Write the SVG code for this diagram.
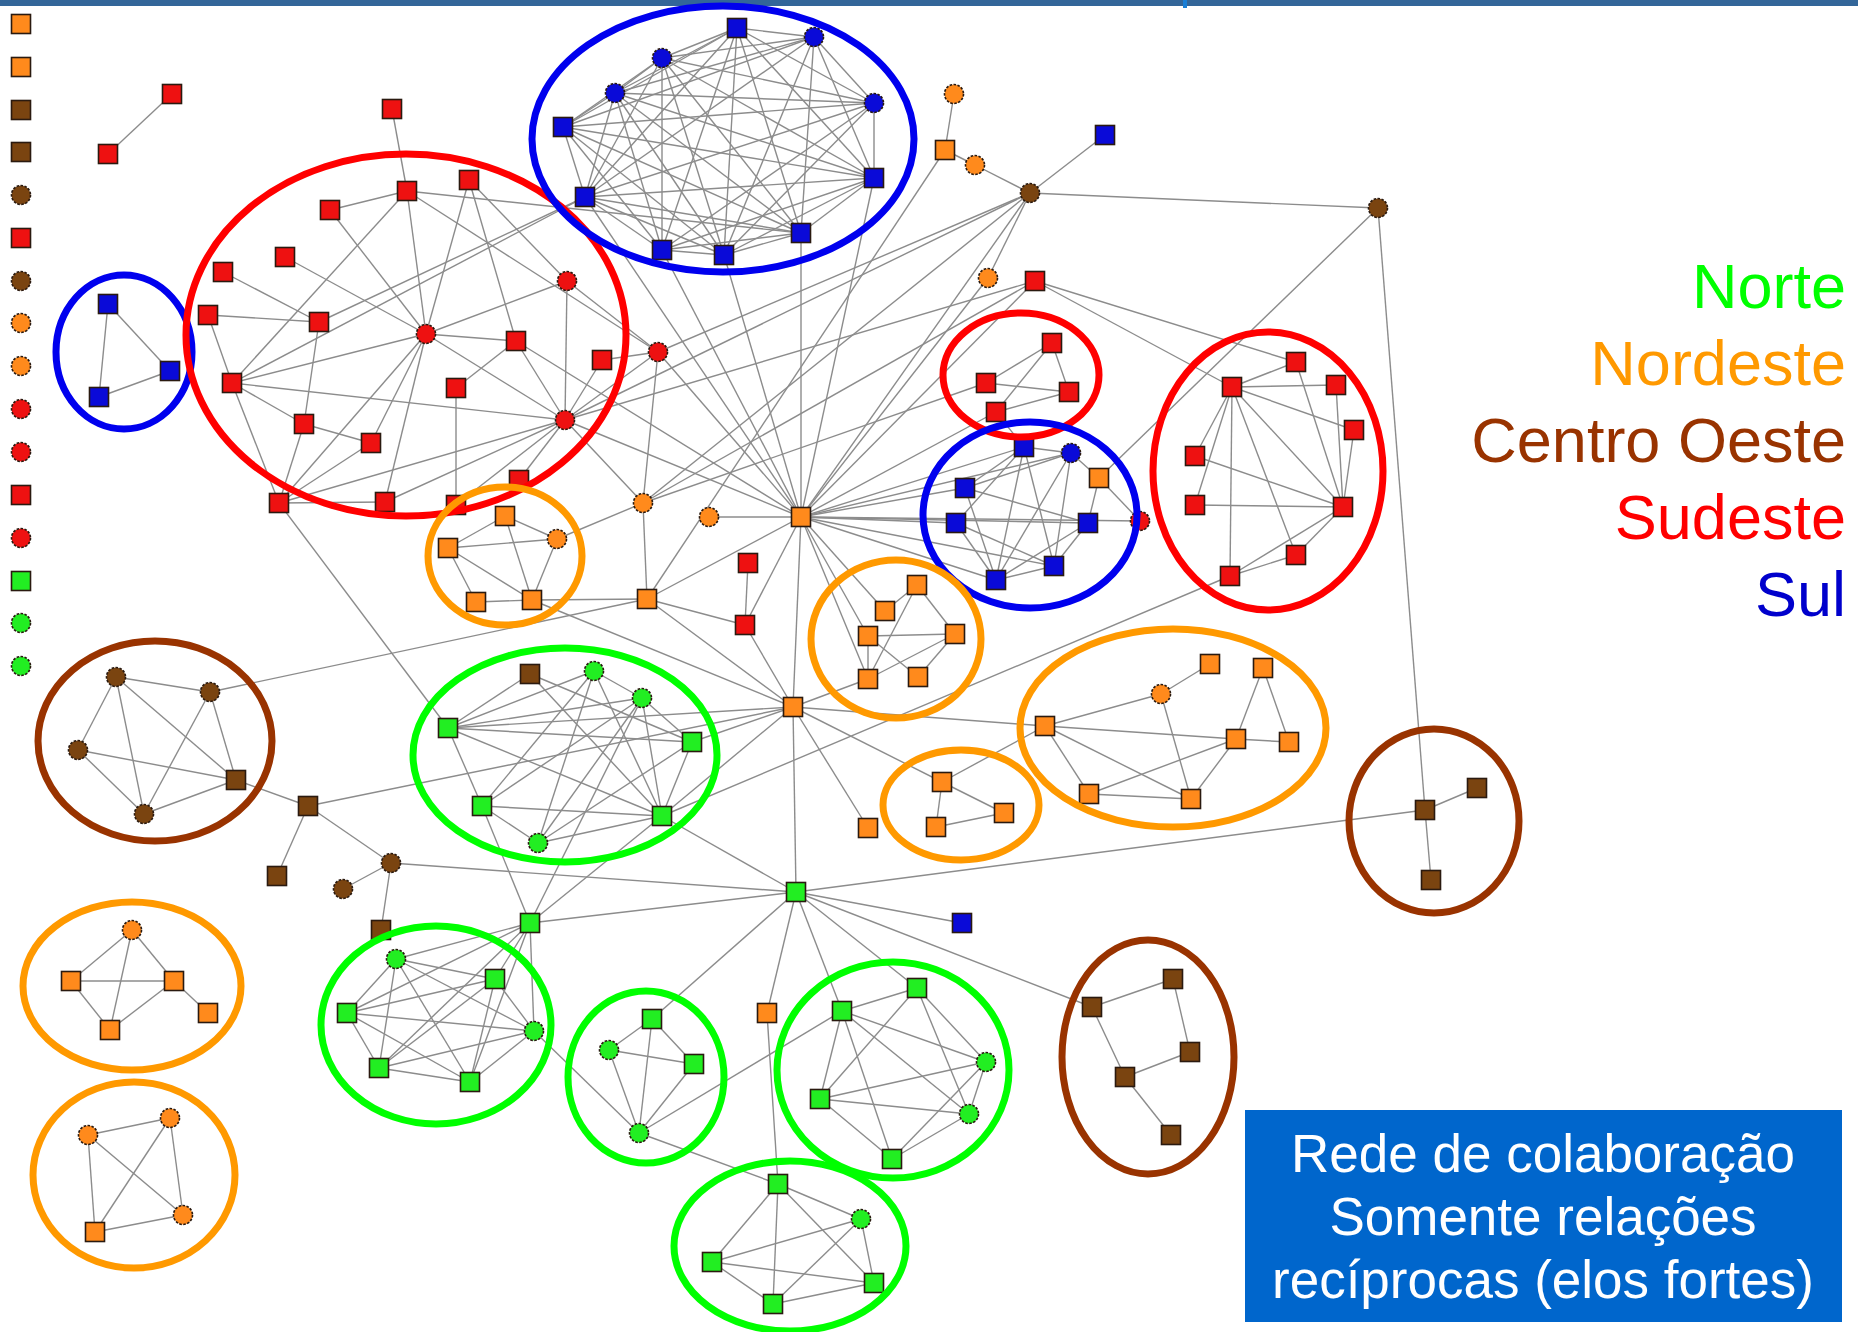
<svg xmlns="http://www.w3.org/2000/svg" xmlns:xlink="http://www.w3.org/1999/xlink" width="1858" height="1332" viewBox="0 0 1858 1332">
<style>
.e line{stroke:#8c8c8c;stroke-width:1.4}
.sq{stroke:#2a1a10;stroke-width:1.6}
.ci{stroke:#2a1a10;stroke-width:1.6;stroke-dasharray:2.6 1.4}
.o{fill:#ff8a1c}.r{fill:#ee1111}.b{fill:#0a0ad8}.w{fill:#7a4410}.g{fill:#22ee22}
.cl ellipse{fill:none;stroke-width:7}
.lg{font-family:"Liberation Sans",Arial,sans-serif;font-size:63px;text-anchor:end}
.bx{font-family:"Liberation Sans",Arial,sans-serif;font-size:53px;text-anchor:middle;fill:#ffffff}
</style>
<defs>
<rect id="so" class="sq o" x="-9.5" y="-9.5" width="19" height="19"/>
<rect id="sr" class="sq r" x="-9.5" y="-9.5" width="19" height="19"/>
<rect id="sb" class="sq b" x="-9.5" y="-9.5" width="19" height="19"/>
<rect id="sw" class="sq w" x="-9.5" y="-9.5" width="19" height="19"/>
<rect id="sg" class="sq g" x="-9.5" y="-9.5" width="19" height="19"/>
<circle id="co" class="ci o" r="9.5"/>
<circle id="cr" class="ci r" r="9.5"/>
<circle id="cb" class="ci b" r="9.5"/>
<circle id="cw" class="ci w" r="9.5"/>
<circle id="cg" class="ci g" r="9.5"/>
</defs>
<rect x="0" y="0" width="1858" height="1332" fill="#ffffff"/>
<rect x="0" y="0" width="1858" height="6" fill="#336699"/>
<rect x="1183" y="0" width="4" height="8" fill="#1a7fd6"/>
<g id="connectors" class="e">
<line x1="172" y1="94" x2="108" y2="154"/>
<line x1="108" y1="304" x2="170" y2="371"/><line x1="108" y1="304" x2="99" y2="397"/><line x1="170" y1="371" x2="99" y2="397"/>
<line x1="392" y1="109" x2="407" y2="191"/>
<line x1="407" y1="191" x2="330" y2="210"/><line x1="407" y1="191" x2="426" y2="334"/><line x1="407" y1="191" x2="232" y2="383"/><line x1="407" y1="191" x2="658" y2="352"/><line x1="407" y1="191" x2="801" y2="233"/>
<line x1="469" y1="180" x2="426" y2="334"/><line x1="469" y1="180" x2="516" y2="341"/><line x1="469" y1="180" x2="567" y2="281"/>
<line x1="330" y1="210" x2="426" y2="334"/><line x1="285" y1="257" x2="426" y2="334"/><line x1="223" y1="272" x2="319" y2="322"/><line x1="208" y1="315" x2="319" y2="322"/><line x1="208" y1="315" x2="232" y2="383"/>
<line x1="319" y1="322" x2="304" y2="424"/><line x1="319" y1="322" x2="585" y2="197"/><line x1="232" y1="383" x2="585" y2="197"/>
<line x1="426" y1="334" x2="516" y2="341"/><line x1="426" y1="334" x2="567" y2="281"/><line x1="426" y1="334" x2="232" y2="383"/><line x1="426" y1="334" x2="565" y2="420"/><line x1="426" y1="334" x2="279" y2="503"/><line x1="426" y1="334" x2="371" y2="443"/><line x1="426" y1="334" x2="385" y2="502"/>
<line x1="516" y1="341" x2="456" y2="388"/><line x1="516" y1="341" x2="565" y2="420"/><line x1="567" y1="281" x2="565" y2="420"/><line x1="567" y1="281" x2="658" y2="352"/>
<line x1="232" y1="383" x2="304" y2="424"/><line x1="232" y1="383" x2="565" y2="420"/><line x1="232" y1="383" x2="279" y2="503"/>
<line x1="456" y1="388" x2="456" y2="505"/><line x1="304" y1="424" x2="371" y2="443"/><line x1="304" y1="424" x2="279" y2="503"/>
<line x1="279" y1="503" x2="385" y2="502"/><line x1="279" y1="503" x2="371" y2="443"/><line x1="279" y1="503" x2="565" y2="420"/>
<line x1="385" y1="502" x2="565" y2="420"/><line x1="456" y1="505" x2="565" y2="420"/><line x1="565" y1="420" x2="519" y2="480"/>
<line x1="602" y1="360" x2="658" y2="352"/><line x1="565" y1="420" x2="658" y2="352"/><line x1="565" y1="420" x2="602" y2="360"/>
<line x1="565" y1="420" x2="643" y2="503"/><line x1="565" y1="420" x2="1035" y2="281"/>
<line x1="279" y1="503" x2="448" y2="728"/>
<line x1="737" y1="28" x2="814" y2="37"/><line x1="737" y1="28" x2="662" y2="58"/><line x1="737" y1="28" x2="615" y2="93"/><line x1="737" y1="28" x2="874" y2="103"/><line x1="737" y1="28" x2="563" y2="127"/><line x1="737" y1="28" x2="874" y2="178"/><line x1="737" y1="28" x2="585" y2="197"/><line x1="737" y1="28" x2="801" y2="233"/><line x1="737" y1="28" x2="662" y2="250"/><line x1="737" y1="28" x2="724" y2="255"/>
<line x1="814" y1="37" x2="662" y2="58"/><line x1="814" y1="37" x2="615" y2="93"/><line x1="814" y1="37" x2="874" y2="103"/><line x1="814" y1="37" x2="563" y2="127"/><line x1="814" y1="37" x2="874" y2="178"/><line x1="814" y1="37" x2="585" y2="197"/><line x1="814" y1="37" x2="801" y2="233"/><line x1="814" y1="37" x2="724" y2="255"/>
<line x1="662" y1="58" x2="615" y2="93"/><line x1="662" y1="58" x2="874" y2="103"/><line x1="662" y1="58" x2="563" y2="127"/><line x1="662" y1="58" x2="874" y2="178"/><line x1="662" y1="58" x2="585" y2="197"/><line x1="662" y1="58" x2="801" y2="233"/><line x1="662" y1="58" x2="662" y2="250"/><line x1="662" y1="58" x2="724" y2="255"/>
<line x1="615" y1="93" x2="874" y2="103"/><line x1="615" y1="93" x2="563" y2="127"/><line x1="615" y1="93" x2="874" y2="178"/><line x1="615" y1="93" x2="585" y2="197"/><line x1="615" y1="93" x2="801" y2="233"/><line x1="615" y1="93" x2="662" y2="250"/><line x1="615" y1="93" x2="724" y2="255"/>
<line x1="874" y1="103" x2="563" y2="127"/><line x1="874" y1="103" x2="874" y2="178"/><line x1="874" y1="103" x2="585" y2="197"/><line x1="874" y1="103" x2="662" y2="250"/><line x1="874" y1="103" x2="724" y2="255"/>
<line x1="563" y1="127" x2="874" y2="178"/><line x1="563" y1="127" x2="585" y2="197"/><line x1="563" y1="127" x2="801" y2="233"/><line x1="563" y1="127" x2="662" y2="250"/><line x1="563" y1="127" x2="724" y2="255"/>
<line x1="874" y1="178" x2="585" y2="197"/><line x1="874" y1="178" x2="801" y2="233"/><line x1="874" y1="178" x2="662" y2="250"/><line x1="874" y1="178" x2="724" y2="255"/>
<line x1="585" y1="197" x2="801" y2="233"/><line x1="585" y1="197" x2="662" y2="250"/><line x1="585" y1="197" x2="724" y2="255"/>
<line x1="801" y1="233" x2="662" y2="250"/><line x1="801" y1="233" x2="724" y2="255"/><line x1="662" y1="250" x2="724" y2="255"/>
<line x1="585" y1="197" x2="801" y2="517"/><line x1="662" y1="250" x2="801" y2="517"/><line x1="724" y1="255" x2="801" y2="517"/><line x1="801" y1="233" x2="801" y2="517"/><line x1="874" y1="178" x2="801" y2="517"/>
<line x1="954" y1="94" x2="945" y2="150"/><line x1="945" y1="150" x2="975" y2="165"/><line x1="975" y1="165" x2="1030" y2="193"/><line x1="1030" y1="193" x2="1105" y2="135"/><line x1="1030" y1="193" x2="1378" y2="208"/><line x1="1030" y1="193" x2="988" y2="278"/>
<line x1="1030" y1="193" x2="658" y2="352"/><line x1="1030" y1="193" x2="643" y2="503"/><line x1="1030" y1="193" x2="565" y2="420"/><line x1="1030" y1="193" x2="801" y2="517"/>
<line x1="945" y1="150" x2="647" y2="599"/><line x1="988" y1="278" x2="801" y2="517"/>
<line x1="1035" y1="281" x2="801" y2="517"/><line x1="1035" y1="281" x2="1296" y2="362"/><line x1="1035" y1="281" x2="1232" y2="387"/><line x1="643" y1="503" x2="1035" y2="281"/>
<line x1="1052" y1="343" x2="986" y2="383"/><line x1="1052" y1="343" x2="1069" y2="392"/><line x1="1052" y1="343" x2="996" y2="412"/><line x1="986" y1="383" x2="1069" y2="392"/><line x1="996" y1="412" x2="1069" y2="392"/>
<line x1="986" y1="383" x2="643" y2="503"/><line x1="996" y1="412" x2="1024" y2="447"/><line x1="996" y1="412" x2="801" y2="517"/>
<line x1="1296" y1="362" x2="1232" y2="387"/><line x1="1232" y1="387" x2="1336" y2="385"/><line x1="1232" y1="387" x2="1195" y2="456"/><line x1="1232" y1="387" x2="1195" y2="505"/><line x1="1232" y1="387" x2="1230" y2="576"/><line x1="1232" y1="387" x2="1296" y2="555"/><line x1="1232" y1="387" x2="1354" y2="430"/><line x1="1232" y1="387" x2="1343" y2="507"/>
<line x1="1296" y1="362" x2="1343" y2="507"/><line x1="1336" y1="385" x2="1343" y2="507"/><line x1="1354" y1="430" x2="1343" y2="507"/><line x1="1195" y1="456" x2="1343" y2="507"/><line x1="1195" y1="505" x2="1343" y2="507"/><line x1="1343" y1="507" x2="1296" y2="555"/><line x1="1343" y1="507" x2="1230" y2="576"/><line x1="1296" y1="555" x2="1230" y2="576"/>
<line x1="1230" y1="576" x2="662" y2="816"/><line x1="1378" y1="208" x2="1425" y2="810"/><line x1="1378" y1="208" x2="1099" y2="478"/>
<line x1="1024" y1="447" x2="965" y2="488"/><line x1="1024" y1="447" x2="956" y2="523"/><line x1="1024" y1="447" x2="996" y2="580"/><line x1="1024" y1="447" x2="1054" y2="566"/><line x1="1024" y1="447" x2="1071" y2="453"/>
<line x1="1071" y1="453" x2="965" y2="488"/><line x1="1071" y1="453" x2="996" y2="580"/><line x1="1071" y1="453" x2="1054" y2="566"/><line x1="1071" y1="453" x2="1099" y2="478"/><line x1="1099" y1="478" x2="1088" y2="523"/>
<line x1="965" y1="488" x2="1088" y2="523"/><line x1="965" y1="488" x2="996" y2="580"/><line x1="956" y1="523" x2="996" y2="580"/><line x1="956" y1="523" x2="1054" y2="566"/><line x1="1088" y1="523" x2="996" y2="580"/><line x1="1088" y1="523" x2="1054" y2="566"/><line x1="1054" y1="566" x2="996" y2="580"/><line x1="1099" y1="478" x2="1140" y2="521"/>
<line x1="801" y1="517" x2="1024" y2="447"/><line x1="801" y1="517" x2="965" y2="488"/><line x1="801" y1="517" x2="956" y2="523"/><line x1="801" y1="517" x2="1088" y2="523"/><line x1="801" y1="517" x2="1054" y2="566"/><line x1="801" y1="517" x2="996" y2="580"/><line x1="801" y1="517" x2="1140" y2="521"/><line x1="801" y1="517" x2="1071" y2="453"/>
<line x1="505" y1="516" x2="448" y2="548"/><line x1="505" y1="516" x2="557" y2="539"/><line x1="505" y1="516" x2="532" y2="600"/><line x1="448" y1="548" x2="557" y2="539"/><line x1="448" y1="548" x2="476" y2="602"/><line x1="448" y1="548" x2="532" y2="600"/><line x1="476" y1="602" x2="532" y2="600"/><line x1="557" y1="539" x2="532" y2="600"/>
<line x1="557" y1="539" x2="643" y2="503"/><line x1="532" y1="600" x2="647" y2="599"/><line x1="532" y1="600" x2="793" y2="707"/>
<line x1="643" y1="503" x2="658" y2="352"/><line x1="643" y1="503" x2="647" y2="599"/><line x1="709" y1="517" x2="801" y2="517"/>
<line x1="801" y1="517" x2="647" y2="599"/><line x1="801" y1="517" x2="793" y2="707"/><line x1="801" y1="517" x2="885" y2="611"/><line x1="801" y1="517" x2="868" y2="636"/><line x1="801" y1="517" x2="868" y2="679"/><line x1="801" y1="517" x2="745" y2="625"/>
<line x1="801" y1="517" x2="565" y2="420"/><line x1="801" y1="517" x2="516" y2="341"/><line x1="801" y1="517" x2="658" y2="352"/>
<line x1="748" y1="563" x2="745" y2="625"/><line x1="745" y1="625" x2="793" y2="707"/><line x1="647" y1="599" x2="793" y2="707"/><line x1="647" y1="599" x2="745" y2="625"/><line x1="647" y1="599" x2="210" y2="692"/>
<line x1="793" y1="707" x2="692" y2="742"/><line x1="793" y1="707" x2="448" y2="728"/><line x1="793" y1="707" x2="662" y2="816"/><line x1="793" y1="707" x2="796" y2="892"/><line x1="793" y1="707" x2="868" y2="828"/><line x1="793" y1="707" x2="1045" y2="726"/><line x1="793" y1="707" x2="942" y2="782"/><line x1="793" y1="707" x2="868" y2="679"/><line x1="793" y1="707" x2="308" y2="806"/>
<line x1="917" y1="585" x2="885" y2="611"/><line x1="917" y1="585" x2="955" y2="634"/><line x1="917" y1="585" x2="868" y2="679"/><line x1="868" y1="636" x2="955" y2="634"/><line x1="868" y1="636" x2="868" y2="679"/><line x1="868" y1="636" x2="918" y2="677"/><line x1="868" y1="679" x2="955" y2="634"/><line x1="918" y1="677" x2="955" y2="634"/>
<line x1="116" y1="677" x2="210" y2="692"/><line x1="116" y1="677" x2="78" y2="750"/><line x1="116" y1="677" x2="144" y2="814"/><line x1="116" y1="677" x2="236" y2="780"/><line x1="210" y1="692" x2="236" y2="780"/><line x1="210" y1="692" x2="144" y2="814"/><line x1="78" y1="750" x2="236" y2="780"/><line x1="78" y1="750" x2="144" y2="814"/><line x1="144" y1="814" x2="236" y2="780"/><line x1="236" y1="780" x2="308" y2="806"/>
<line x1="308" y1="806" x2="277" y2="876"/><line x1="308" y1="806" x2="391" y2="863"/><line x1="391" y1="863" x2="343" y2="889"/><line x1="391" y1="863" x2="381" y2="930"/><line x1="391" y1="863" x2="796" y2="892"/>
<line x1="448" y1="728" x2="530" y2="674"/><line x1="448" y1="728" x2="594" y2="671"/><line x1="448" y1="728" x2="642" y2="698"/><line x1="448" y1="728" x2="692" y2="742"/><line x1="448" y1="728" x2="662" y2="816"/><line x1="448" y1="728" x2="482" y2="806"/>
<line x1="530" y1="674" x2="662" y2="816"/><line x1="530" y1="674" x2="692" y2="742"/><line x1="594" y1="671" x2="642" y2="698"/><line x1="594" y1="671" x2="482" y2="806"/><line x1="594" y1="671" x2="662" y2="816"/><line x1="594" y1="671" x2="538" y2="843"/>
<line x1="642" y1="698" x2="692" y2="742"/><line x1="642" y1="698" x2="662" y2="816"/><line x1="642" y1="698" x2="482" y2="806"/><line x1="642" y1="698" x2="538" y2="843"/><line x1="692" y1="742" x2="662" y2="816"/><line x1="482" y1="806" x2="662" y2="816"/><line x1="482" y1="806" x2="538" y2="843"/><line x1="662" y1="816" x2="538" y2="843"/><line x1="692" y1="742" x2="538" y2="843"/>
<line x1="482" y1="806" x2="530" y2="923"/><line x1="642" y1="698" x2="530" y2="923"/><line x1="662" y1="816" x2="530" y2="923"/><line x1="662" y1="816" x2="796" y2="892"/>
<line x1="796" y1="892" x2="530" y2="923"/><line x1="796" y1="892" x2="962" y2="923"/><line x1="796" y1="892" x2="1092" y2="1007"/><line x1="796" y1="892" x2="652" y2="1019"/><line x1="796" y1="892" x2="767" y2="1013"/><line x1="796" y1="892" x2="842" y2="1011"/><line x1="796" y1="892" x2="917" y2="988"/><line x1="796" y1="892" x2="1425" y2="810"/>
<line x1="530" y1="923" x2="396" y2="959"/><line x1="530" y1="923" x2="495" y2="979"/><line x1="530" y1="923" x2="347" y2="1013"/><line x1="530" y1="923" x2="534" y2="1031"/><line x1="530" y1="923" x2="379" y2="1068"/><line x1="530" y1="923" x2="470" y2="1082"/>
<line x1="396" y1="959" x2="495" y2="979"/><line x1="396" y1="959" x2="347" y2="1013"/><line x1="396" y1="959" x2="534" y2="1031"/><line x1="396" y1="959" x2="379" y2="1068"/><line x1="396" y1="959" x2="470" y2="1082"/>
<line x1="495" y1="979" x2="347" y2="1013"/><line x1="495" y1="979" x2="534" y2="1031"/><line x1="495" y1="979" x2="379" y2="1068"/><line x1="495" y1="979" x2="470" y2="1082"/>
<line x1="347" y1="1013" x2="534" y2="1031"/><line x1="347" y1="1013" x2="379" y2="1068"/><line x1="347" y1="1013" x2="470" y2="1082"/><line x1="534" y1="1031" x2="379" y2="1068"/><line x1="534" y1="1031" x2="470" y2="1082"/><line x1="379" y1="1068" x2="470" y2="1082"/>
<line x1="534" y1="1031" x2="639" y2="1133"/>
<line x1="652" y1="1019" x2="609" y2="1050"/><line x1="652" y1="1019" x2="694" y2="1064"/><line x1="652" y1="1019" x2="639" y2="1133"/><line x1="609" y1="1050" x2="694" y2="1064"/><line x1="609" y1="1050" x2="639" y2="1133"/><line x1="694" y1="1064" x2="639" y2="1133"/>
<line x1="639" y1="1133" x2="778" y2="1184"/><line x1="639" y1="1133" x2="842" y2="1011"/><line x1="767" y1="1013" x2="778" y2="1184"/>
<line x1="917" y1="988" x2="842" y2="1011"/><line x1="917" y1="988" x2="820" y2="1099"/><line x1="917" y1="988" x2="969" y2="1114"/><line x1="917" y1="988" x2="986" y2="1062"/>
<line x1="842" y1="1011" x2="820" y2="1099"/><line x1="842" y1="1011" x2="892" y2="1159"/><line x1="842" y1="1011" x2="986" y2="1062"/><line x1="842" y1="1011" x2="969" y2="1114"/>
<line x1="820" y1="1099" x2="986" y2="1062"/><line x1="820" y1="1099" x2="969" y2="1114"/><line x1="820" y1="1099" x2="892" y2="1159"/><line x1="986" y1="1062" x2="969" y2="1114"/><line x1="969" y1="1114" x2="892" y2="1159"/><line x1="892" y1="1159" x2="986" y2="1062"/>
<line x1="778" y1="1184" x2="861" y2="1219"/><line x1="778" y1="1184" x2="712" y2="1262"/><line x1="778" y1="1184" x2="773" y2="1304"/><line x1="778" y1="1184" x2="874" y2="1283"/><line x1="861" y1="1219" x2="712" y2="1262"/><line x1="861" y1="1219" x2="874" y2="1283"/><line x1="861" y1="1219" x2="773" y2="1304"/><line x1="712" y1="1262" x2="874" y2="1283"/><line x1="712" y1="1262" x2="773" y2="1304"/><line x1="874" y1="1283" x2="773" y2="1304"/>
<line x1="132" y1="930" x2="71" y2="981"/><line x1="132" y1="930" x2="174" y2="981"/><line x1="132" y1="930" x2="110" y2="1030"/><line x1="71" y1="981" x2="174" y2="981"/><line x1="71" y1="981" x2="110" y2="1030"/><line x1="174" y1="981" x2="110" y2="1030"/><line x1="174" y1="981" x2="208" y2="1013"/>
<line x1="88" y1="1135" x2="170" y2="1118"/><line x1="88" y1="1135" x2="95" y2="1232"/><line x1="88" y1="1135" x2="183" y2="1215"/><line x1="170" y1="1118" x2="95" y2="1232"/><line x1="170" y1="1118" x2="183" y2="1215"/><line x1="95" y1="1232" x2="183" y2="1215"/>
<line x1="1173" y1="979" x2="1092" y2="1007"/><line x1="1173" y1="979" x2="1190" y2="1052"/><line x1="1092" y1="1007" x2="1125" y2="1077"/><line x1="1190" y1="1052" x2="1125" y2="1077"/><line x1="1125" y1="1077" x2="1171" y2="1135"/>
<line x1="1477" y1="788" x2="1425" y2="810"/><line x1="1425" y1="810" x2="1431" y2="880"/>
<line x1="1161" y1="694" x2="1210" y2="664"/><line x1="1161" y1="694" x2="1045" y2="726"/><line x1="1161" y1="694" x2="1191" y2="799"/><line x1="1045" y1="726" x2="1236" y2="739"/><line x1="1045" y1="726" x2="1089" y2="794"/><line x1="1045" y1="726" x2="1191" y2="799"/>
<line x1="1263" y1="668" x2="1236" y2="739"/><line x1="1263" y1="668" x2="1289" y2="742"/><line x1="1236" y1="739" x2="1289" y2="742"/><line x1="1236" y1="739" x2="1089" y2="794"/><line x1="1236" y1="739" x2="1191" y2="799"/><line x1="1089" y1="794" x2="1191" y2="799"/><line x1="1045" y1="726" x2="942" y2="782"/>
<line x1="942" y1="782" x2="1004" y2="813"/><line x1="942" y1="782" x2="936" y2="827"/><line x1="936" y1="827" x2="1004" y2="813"/>
</g>
<g id="nodes">
<g id="legend-0"><use href="#so" x="21" y="24"/></g>
<g id="legend-1"><use href="#so" x="21" y="67"/></g>
<g id="legend-2"><use href="#sw" x="21" y="110"/></g>
<g id="legend-3"><use href="#sw" x="21" y="152"/></g>
<g id="legend-4"><use href="#cw" x="21" y="195"/></g>
<g id="legend-5"><use href="#sr" x="21" y="238"/></g>
<g id="legend-6"><use href="#cw" x="21" y="281"/></g>
<g id="legend-7"><use href="#co" x="21" y="323"/></g>
<g id="legend-8"><use href="#co" x="21" y="366"/></g>
<g id="legend-9"><use href="#cr" x="21" y="409"/></g>
<g id="legend-10"><use href="#cr" x="21" y="452"/></g>
<g id="legend-11"><use href="#sr" x="21" y="495"/></g>
<g id="legend-12"><use href="#cr" x="21" y="538"/></g>
<g id="legend-13"><use href="#sg" x="21" y="581"/></g>
<g id="legend-14"><use href="#cg" x="21" y="623"/></g>
<g id="legend-15"><use href="#cg" x="21" y="666"/></g>
<g id="R1"><use href="#sr" x="172" y="94"/></g>
<g id="R2"><use href="#sr" x="108" y="154"/></g>
<g id="B1"><use href="#sb" x="108" y="304"/></g>
<g id="B2"><use href="#sb" x="170" y="371"/></g>
<g id="B3"><use href="#sb" x="99" y="397"/></g>
<g id="r0"><use href="#sr" x="392" y="109"/></g>
<g id="r1"><use href="#sr" x="407" y="191"/></g>
<g id="r2"><use href="#sr" x="469" y="180"/></g>
<g id="r3"><use href="#sr" x="330" y="210"/></g>
<g id="r4"><use href="#sr" x="285" y="257"/></g>
<g id="r5"><use href="#sr" x="223" y="272"/></g>
<g id="r6"><use href="#sr" x="208" y="315"/></g>
<g id="r7"><use href="#sr" x="319" y="322"/></g>
<g id="rc1"><use href="#cr" x="426" y="334"/></g>
<g id="r8"><use href="#sr" x="516" y="341"/></g>
<g id="rc2"><use href="#cr" x="567" y="281"/></g>
<g id="r9"><use href="#sr" x="232" y="383"/></g>
<g id="r10"><use href="#sr" x="456" y="388"/></g>
<g id="r11"><use href="#sr" x="304" y="424"/></g>
<g id="r12"><use href="#sr" x="371" y="443"/></g>
<g id="rc3"><use href="#cr" x="565" y="420"/></g>
<g id="r13"><use href="#sr" x="602" y="360"/></g>
<g id="rc4"><use href="#cr" x="658" y="352"/></g>
<g id="r14"><use href="#sr" x="279" y="503"/></g>
<g id="r15"><use href="#sr" x="385" y="502"/></g>
<g id="r16"><use href="#sr" x="456" y="505"/></g>
<g id="r17"><use href="#sr" x="519" y="480"/></g>
<g id="bt1"><use href="#sb" x="737" y="28"/></g>
<g id="bt2"><use href="#cb" x="814" y="37"/></g>
<g id="bt3"><use href="#cb" x="662" y="58"/></g>
<g id="bt4"><use href="#cb" x="615" y="93"/></g>
<g id="bt5"><use href="#cb" x="874" y="103"/></g>
<g id="bt6"><use href="#sb" x="563" y="127"/></g>
<g id="bt7"><use href="#sb" x="874" y="178"/></g>
<g id="bt8"><use href="#sb" x="585" y="197"/></g>
<g id="bt9"><use href="#sb" x="801" y="233"/></g>
<g id="bt10"><use href="#sb" x="662" y="250"/></g>
<g id="bt11"><use href="#sb" x="724" y="255"/></g>
<g id="oc1"><use href="#co" x="954" y="94"/></g>
<g id="os1"><use href="#so" x="945" y="150"/></g>
<g id="oc2"><use href="#co" x="975" y="165"/></g>
<g id="brc1"><use href="#cw" x="1030" y="193"/></g>
<g id="bsi"><use href="#sb" x="1105" y="135"/></g>
<g id="brc2"><use href="#cw" x="1378" y="208"/></g>
<g id="oc3"><use href="#co" x="988" y="278"/></g>
<g id="rs1"><use href="#sr" x="1035" y="281"/></g>
<g id="t1"><use href="#sr" x="1052" y="343"/></g>
<g id="t2"><use href="#sr" x="986" y="383"/></g>
<g id="t3"><use href="#sr" x="1069" y="392"/></g>
<g id="t4"><use href="#sr" x="996" y="412"/></g>
<g id="u1"><use href="#sr" x="1296" y="362"/></g>
<g id="u2"><use href="#sr" x="1232" y="387"/></g>
<g id="u3"><use href="#sr" x="1336" y="385"/></g>
<g id="u4"><use href="#sr" x="1354" y="430"/></g>
<g id="u5"><use href="#sr" x="1195" y="456"/></g>
<g id="u6"><use href="#sr" x="1195" y="505"/></g>
<g id="u7"><use href="#sr" x="1343" y="507"/></g>
<g id="u8"><use href="#sr" x="1296" y="555"/></g>
<g id="u9"><use href="#sr" x="1230" y="576"/></g>
<g id="rc5"><use href="#cr" x="1140" y="521"/></g>
<g id="w1"><use href="#sb" x="1024" y="447"/></g>
<g id="wc"><use href="#cb" x="1071" y="453"/></g>
<g id="wo"><use href="#so" x="1099" y="478"/></g>
<g id="w2"><use href="#sb" x="965" y="488"/></g>
<g id="w3"><use href="#sb" x="956" y="523"/></g>
<g id="w4"><use href="#sb" x="1088" y="523"/></g>
<g id="w5"><use href="#sb" x="1054" y="566"/></g>
<g id="w6"><use href="#sb" x="996" y="580"/></g>
<g id="p1"><use href="#so" x="505" y="516"/></g>
<g id="p2"><use href="#so" x="448" y="548"/></g>
<g id="pc"><use href="#co" x="557" y="539"/></g>
<g id="p3"><use href="#so" x="476" y="602"/></g>
<g id="p4"><use href="#so" x="532" y="600"/></g>
<g id="oc4"><use href="#co" x="643" y="503"/></g>
<g id="oc5"><use href="#co" x="709" y="517"/></g>
<g id="hub1"><use href="#so" x="801" y="517"/></g>
<g id="rs2"><use href="#sr" x="748" y="563"/></g>
<g id="rs3"><use href="#sr" x="745" y="625"/></g>
<g id="os2"><use href="#so" x="647" y="599"/></g>
<g id="hub2"><use href="#so" x="793" y="707"/></g>
<g id="os3"><use href="#so" x="868" y="828"/></g>
<g id="q1"><use href="#so" x="917" y="585"/></g>
<g id="q2"><use href="#so" x="885" y="611"/></g>
<g id="q3"><use href="#so" x="868" y="636"/></g>
<g id="q4"><use href="#so" x="955" y="634"/></g>
<g id="q5"><use href="#so" x="868" y="679"/></g>
<g id="q6"><use href="#so" x="918" y="677"/></g>
<g id="bc1"><use href="#cw" x="116" y="677"/></g>
<g id="bc2"><use href="#cw" x="210" y="692"/></g>
<g id="bc3"><use href="#cw" x="78" y="750"/></g>
<g id="bc4"><use href="#cw" x="144" y="814"/></g>
<g id="bs1"><use href="#sw" x="236" y="780"/></g>
<g id="bs2"><use href="#sw" x="308" y="806"/></g>
<g id="bs3"><use href="#sw" x="277" y="876"/></g>
<g id="brc3"><use href="#cw" x="391" y="863"/></g>
<g id="brc4"><use href="#cw" x="343" y="889"/></g>
<g id="bs4"><use href="#sw" x="381" y="930"/></g>
<g id="gmb"><use href="#sw" x="530" y="674"/></g>
<g id="gm1"><use href="#cg" x="594" y="671"/></g>
<g id="gm2"><use href="#cg" x="642" y="698"/></g>
<g id="gm3"><use href="#sg" x="448" y="728"/></g>
<g id="gm4"><use href="#sg" x="692" y="742"/></g>
<g id="gm5"><use href="#sg" x="482" y="806"/></g>
<g id="gm6"><use href="#sg" x="662" y="816"/></g>
<g id="gm7"><use href="#cg" x="538" y="843"/></g>
<g id="o1"><use href="#so" x="1210" y="664"/></g>
<g id="o2"><use href="#so" x="1263" y="668"/></g>
<g id="ocr"><use href="#co" x="1161" y="694"/></g>
<g id="o3"><use href="#so" x="1045" y="726"/></g>
<g id="o4"><use href="#so" x="1236" y="739"/></g>
<g id="o5"><use href="#so" x="1289" y="742"/></g>
<g id="o6"><use href="#so" x="1089" y="794"/></g>
<g id="o7"><use href="#so" x="1191" y="799"/></g>
<g id="s1"><use href="#so" x="942" y="782"/></g>
<g id="s2"><use href="#so" x="1004" y="813"/></g>
<g id="s3"><use href="#so" x="936" y="827"/></g>
<g id="m1"><use href="#sw" x="1477" y="788"/></g>
<g id="m2"><use href="#sw" x="1425" y="810"/></g>
<g id="m3"><use href="#sw" x="1431" y="880"/></g>
<g id="hubG"><use href="#sg" x="796" y="892"/></g>
<g id="gs"><use href="#sg" x="530" y="923"/></g>
<g id="bsi2"><use href="#sb" x="962" y="923"/></g>
<g id="os4"><use href="#so" x="767" y="1013"/></g>
<g id="c1"><use href="#cg" x="396" y="959"/></g>
<g id="c2"><use href="#sg" x="495" y="979"/></g>
<g id="c3"><use href="#sg" x="347" y="1013"/></g>
<g id="c4"><use href="#cg" x="534" y="1031"/></g>
<g id="c5"><use href="#sg" x="379" y="1068"/></g>
<g id="c6"><use href="#sg" x="470" y="1082"/></g>
<g id="d1"><use href="#sg" x="652" y="1019"/></g>
<g id="d2"><use href="#cg" x="609" y="1050"/></g>
<g id="d3"><use href="#sg" x="694" y="1064"/></g>
<g id="d4"><use href="#cg" x="639" y="1133"/></g>
<g id="e1"><use href="#sg" x="917" y="988"/></g>
<g id="e2"><use href="#sg" x="842" y="1011"/></g>
<g id="e3"><use href="#cg" x="986" y="1062"/></g>
<g id="e4"><use href="#sg" x="820" y="1099"/></g>
<g id="e5"><use href="#cg" x="969" y="1114"/></g>
<g id="e6"><use href="#sg" x="892" y="1159"/></g>
<g id="f1"><use href="#sg" x="778" y="1184"/></g>
<g id="f2"><use href="#cg" x="861" y="1219"/></g>
<g id="f3"><use href="#sg" x="712" y="1262"/></g>
<g id="f4"><use href="#sg" x="874" y="1283"/></g>
<g id="f5"><use href="#sg" x="773" y="1304"/></g>
<g id="a1"><use href="#co" x="132" y="930"/></g>
<g id="a2"><use href="#so" x="71" y="981"/></g>
<g id="a3"><use href="#so" x="174" y="981"/></g>
<g id="a4"><use href="#so" x="208" y="1013"/></g>
<g id="a5"><use href="#so" x="110" y="1030"/></g>
<g id="b1"><use href="#co" x="88" y="1135"/></g>
<g id="b2"><use href="#co" x="170" y="1118"/></g>
<g id="b3"><use href="#co" x="183" y="1215"/></g>
<g id="b4"><use href="#so" x="95" y="1232"/></g>
<g id="k1"><use href="#sw" x="1173" y="979"/></g>
<g id="k2"><use href="#sw" x="1092" y="1007"/></g>
<g id="k3"><use href="#sw" x="1190" y="1052"/></g>
<g id="k4"><use href="#sw" x="1125" y="1077"/></g>
<g id="k5"><use href="#sw" x="1171" y="1135"/></g>
</g>
<g id="clusters" class="cl">
<ellipse cx="124" cy="352" rx="68" ry="77" stroke="#0000ee"/>
<ellipse cx="406" cy="335" rx="220" ry="181" stroke="#ff0000"/>
<ellipse cx="723" cy="139" rx="191" ry="133" stroke="#0000ee"/>
<ellipse cx="1021" cy="375" rx="78" ry="62" stroke="#ff0000"/>
<ellipse cx="1268" cy="471" rx="115" ry="139" stroke="#ff0000"/>
<ellipse cx="1030" cy="515" rx="107" ry="93" stroke="#0000ee"/>
<ellipse cx="505" cy="556" rx="77" ry="69" stroke="#ff9900"/>
<ellipse cx="896" cy="639" rx="85" ry="79" stroke="#ff9900"/>
<ellipse cx="1173" cy="728" rx="153" ry="99" stroke="#ff9900"/>
<ellipse cx="961" cy="805" rx="78" ry="55" stroke="#ff9900"/>
<ellipse cx="155" cy="741" rx="117" ry="100" stroke="#993300"/>
<ellipse cx="565" cy="755" rx="152" ry="107" stroke="#00ff00"/>
<ellipse cx="1434" cy="821" rx="85" ry="92" stroke="#993300"/>
<ellipse cx="132" cy="986" rx="109" ry="84" stroke="#ff9900"/>
<ellipse cx="134" cy="1175" rx="101" ry="93" stroke="#ff9900"/>
<ellipse cx="436" cy="1025" rx="115" ry="99" stroke="#00ff00"/>
<ellipse cx="646" cy="1077" rx="78" ry="86" stroke="#00ff00"/>
<ellipse cx="893" cy="1070" rx="116" ry="108" stroke="#00ff00"/>
<ellipse cx="790" cy="1246" rx="116" ry="85" stroke="#00ff00"/>
<ellipse cx="1148" cy="1057" rx="86" ry="117" stroke="#993300"/>
</g>
<g id="legend-text">
<text class="lg" x="1846" y="308" fill="#00ff00">Norte</text>
<text class="lg" x="1846" y="385" fill="#ff9900">Nordeste</text>
<text class="lg" x="1846" y="462" fill="#993300">Centro Oeste</text>
<text class="lg" x="1846" y="539" fill="#ff0000">Sudeste</text>
<text class="lg" x="1846" y="616" fill="#0000cc">Sul</text>
</g>
<g id="caption">
<rect x="1245" y="1110" width="597" height="212" fill="#0066cc"/>
<text class="bx" x="1543" y="1172">Rede de colaboração</text>
<text class="bx" x="1543" y="1235">Somente relações</text>
<text class="bx" x="1543" y="1298">recíprocas (elos fortes)</text>
</g>
</svg>
